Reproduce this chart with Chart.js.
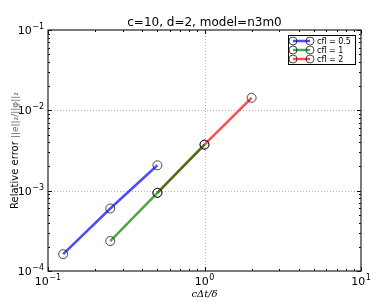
<!DOCTYPE html>
<html>
<head>
<meta charset="utf-8">
<script src="https://cdn.jsdelivr.net/npm/chart.js@4"></script>
<style>
  body { margin: 0; background: #fff; }
  #wrap { width: 390px; height: 302px; }
</style>
</head>
<body>
<div id="wrap"><canvas id="errChart" width="390" height="302"></canvas></div>
<script>
// data
const cflLabels = ["cfl = 0.5", "cfl = 1", "cfl = 2"];
const dtHalf = [0.125, 0.25, 0.5];
const dtOne = [0.25, 0.5, 1];
const dtTwo = [0.5, 1, 2];
const errHalf = [1.62e-4, 6.0e-4, 2.07e-3];
const errOne = [2.36e-4, 9.4e-4, 3.74e-3];
const errTwo = [9.4e-4, 3.74e-3, 1.43e-2];
const xTickExp = [-1, 0, 1];
const yTickExp = [-4, -3, -2, -1];

const lineColors = ["rgba(0,0,255,0.7)", "rgba(0,128,0,0.7)", "rgba(255,0,0,0.7)"];

function pts(xs, ys) {
    return xs.map((x, i) => ({ x: x, y: ys[i] }));
}

function makeSet(label, xs, ys, color) {
    return {
        label: label,
        data: pts(xs, ys),
        showLine: true,
        borderColor: color,
        borderWidth: 2.5,
        pointRadius: 4.5,
        pointStyle: "circle",
        pointBackgroundColor: "rgba(0,0,0,0)",
        pointBorderColor: "rgba(0,0,0,0.7)",
        pointBorderWidth: 1
    };
}

function drawPow(ctx, base, exp, x, y, align) {
    const bf = "11px 'DejaVu Sans'";
    const ef = "8px 'DejaVu Sans'";
    ctx.font = bf;
    const bw = ctx.measureText(base).width;
    ctx.font = ef;
    const ew = ctx.measureText(exp).width;
    const total = bw + ew + 0.5;
    let left = x;
    if (align === "center") left = x - total / 2;
    if (align === "right") left = x - total;
    ctx.textAlign = "left";
    ctx.textBaseline = "alphabetic";
    ctx.font = bf;
    ctx.fillText(base, left, y);
    ctx.font = ef;
    ctx.fillText(exp, left + bw + 0.5, y - 5);
}

const frame = {
    id: "frame",
    beforeDatasetsDraw(chart) {
        const { ctx, chartArea: a, scales } = chart;
        const xs = scales.x, ys = scales.y;
        ctx.save();
        // dotted grid at interior decades
        ctx.strokeStyle = "#b0b0b0";
        ctx.lineWidth = 1;
        ctx.setLineDash([1, 2]);
        xTickExp.forEach(e => {
            const px = Math.round(xs.getPixelForValue(Math.pow(10, e))) + 0.5;
            if (px > a.left + 2 && px < a.right - 2) {
                ctx.beginPath(); ctx.moveTo(px, a.top); ctx.lineTo(px, a.bottom); ctx.stroke();
            }
        });
        yTickExp.forEach(e => {
            const py = Math.round(ys.getPixelForValue(Math.pow(10, e))) + 0.5;
            if (py > a.top + 2 && py < a.bottom - 2) {
                ctx.beginPath(); ctx.moveTo(a.left, py); ctx.lineTo(a.right, py); ctx.stroke();
            }
        });
        ctx.restore();
    },
    afterDatasetsDraw(chart) {
        const { ctx, chartArea: a, scales } = chart;
        const xs = scales.x, ys = scales.y;
        ctx.save();
        ctx.setLineDash([]);
        ctx.strokeStyle = "#000";
        ctx.lineWidth = 1;
        // ticks, inward on all four sides
        for (let e = xTickExp[0]; e < xTickExp[xTickExp.length - 1] + 1; e++) {
            for (let m = 1; m <= 9; m++) {
                const v = m * Math.pow(10, e);
                if (v > Math.pow(10, xTickExp[xTickExp.length - 1]) * 1.0001) continue;
                const px = Math.round(xs.getPixelForValue(v)) + 0.5;
                const len = m === 1 ? 4 : 2;
                ctx.beginPath();
                ctx.moveTo(px, a.bottom); ctx.lineTo(px, a.bottom - len);
                ctx.moveTo(px, a.top); ctx.lineTo(px, a.top + len);
                ctx.stroke();
            }
        }
        for (let e = yTickExp[0]; e < yTickExp[yTickExp.length - 1] + 1; e++) {
            for (let m = 1; m <= 9; m++) {
                const v = m * Math.pow(10, e);
                if (v > Math.pow(10, yTickExp[yTickExp.length - 1]) * 1.0001) continue;
                const py = Math.round(ys.getPixelForValue(v)) + 0.5;
                const len = m === 1 ? 4 : 2;
                ctx.beginPath();
                ctx.moveTo(a.left, py); ctx.lineTo(a.left + len, py);
                ctx.moveTo(a.right, py); ctx.lineTo(a.right - len, py);
                ctx.stroke();
            }
        }
        // frame
        ctx.strokeStyle = "#222";
        ctx.lineWidth = 1.2;
        ctx.strokeRect(a.left, a.top, a.right - a.left, a.bottom - a.top);

        // tick labels
        ctx.fillStyle = "#000";
        xTickExp.forEach(e => {
            const px = xs.getPixelForValue(Math.pow(10, e));
            drawPow(ctx, "10", (e < 0 ? "\u2212" : "") + Math.abs(e), px, a.bottom + 14, "center");
        });
        yTickExp.forEach(e => {
            const py = ys.getPixelForValue(Math.pow(10, e));
            drawPow(ctx, "10", (e < 0 ? "\u2212" : "") + Math.abs(e), a.left - 4, py + 4, "right");
        });

        // title
        ctx.font = "12px 'DejaVu Sans'";
        ctx.textAlign = "center";
        ctx.textBaseline = "alphabetic";
        ctx.fillText("c=10, d=2, model=n3m0", (a.left + a.right) / 2, 26);

        // x label
        ctx.font = "italic 10px 'DejaVu Serif'";
        ctx.fillText("c\u0394t/\u03b4", (a.left + a.right) / 2, 297);

        // y label
        ctx.save();
        ctx.translate(18, (a.top + a.bottom) / 2);
        ctx.rotate(-Math.PI / 2);
        const p1 = "Relative error ";
        const p2 = "||e||\u2082/||\u03c6||\u2082";
        ctx.font = "10px 'DejaVu Sans'";
        const w1 = ctx.measureText(p1).width;
        ctx.font = "9px 'DejaVu Sans'";
        const w2 = ctx.measureText(p2).width;
        let sx = -(w1 + w2) / 2;
        ctx.textAlign = "left";
        ctx.font = "10px 'DejaVu Sans'";
        ctx.fillStyle = "#000";
        ctx.fillText(p1, sx, 0);
        ctx.font = "9px 'DejaVu Sans'";
        ctx.fillStyle = "#666";
        ctx.fillText(p2, sx + w1, 0);
        ctx.restore();

        // legend box
        const lx = 288, ly = 35, lw = 67, lh = 29;
        ctx.fillStyle = "#fff";
        ctx.fillRect(lx, ly, lw, lh);
        ctx.strokeStyle = "#000";
        ctx.lineWidth = 1;
        ctx.strokeRect(lx + 0.5, ly + 0.5, lw, lh);
        chart.data.datasets.forEach((ds, i) => {
            const ry = ly + 6 + i * 9;
            ctx.strokeStyle = ds.borderColor;
            ctx.lineWidth = 2.5;
            ctx.beginPath(); ctx.moveTo(293, ry); ctx.lineTo(310, ry); ctx.stroke();
            ctx.strokeStyle = "rgba(0,0,0,0.7)";
            ctx.lineWidth = 1;
            [293, 310].forEach(cx => {
                ctx.beginPath(); ctx.arc(cx, ry, 4, 0, Math.PI * 2); ctx.stroke();
            });
            ctx.fillStyle = "#000";
            ctx.font = "8px 'DejaVu Sans'";
            ctx.textAlign = "left";
            ctx.textBaseline = "middle";
            ctx.fillText(ds.label, 317, ry + 0.5);
        });
        ctx.restore();
    }
};

new Chart(document.getElementById("errChart").getContext("2d"), {
    type: "scatter",
    data: {
        datasets: [
            makeSet(cflLabels[0], dtHalf, errHalf, lineColors[0]),
            makeSet(cflLabels[1], dtOne, errOne, lineColors[1]),
            makeSet(cflLabels[2], dtTwo, errTwo, lineColors[2])
        ]
    },
    options: {
        responsive: false,
        animation: false,
        layout: { padding: { left: 48, right: 29, top: 30, bottom: 31 } },
        plugins: {
            legend: { display: false },
            tooltip: { enabled: false }
        },
        scales: {
            x: {
                type: "logarithmic",
                display: false,
                min: Math.pow(10, xTickExp[0]),
                max: Math.pow(10, xTickExp[xTickExp.length - 1])
            },
            y: {
                type: "logarithmic",
                display: false,
                min: Math.pow(10, yTickExp[0]),
                max: Math.pow(10, yTickExp[yTickExp.length - 1])
            }
        }
    },
    plugins: [frame]
});
</script>
</body>
</html>
